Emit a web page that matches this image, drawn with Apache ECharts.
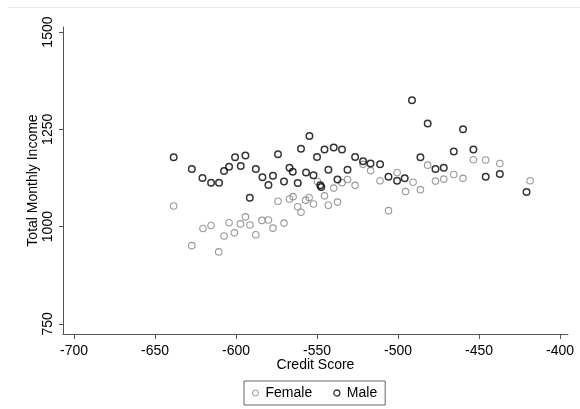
<!DOCTYPE html>
<html lang="en" style="height: 100%">
<head>
  <meta charset="utf-8">
</head>
<body style="height: 100%; margin: 0; background: #fff">
  <div id="container" style="width: 580px; height: 409px"></div>
  <script type="text/javascript" src="https://fastly.jsdelivr.net/npm/echarts@6.0.0/dist/echarts.min.js"></script>
  <script type="text/javascript">
    // credit score (x) and total monthly income (y)
    const maleX = [-638.5, -627.3, -620.7, -615.4, -610.5, -607.4, -604.3, -600.6, -597.1, -594.2,
      -591.5, -587.8, -583.7, -580.0, -577.2, -574.1, -570.4, -567.0, -565.0, -561.9,
      -559.9, -556.8, -554.7, -552.2, -550.0, -548.0, -547.4, -545.4, -543.0, -539.7,
      -537.4, -534.6, -531.2, -526.5, -521.6, -517.0, -511.1, -505.9, -500.6, -495.9,
      -491.4, -486.2, -481.7, -476.9, -471.8, -465.6, -459.9, -453.5, -445.9, -437.2,
      -420.7];
    const maleY = [1178, 1148, 1125, 1113, 1113, 1143, 1154, 1178, 1156, 1183,
      1074, 1148, 1127, 1107, 1131, 1186, 1116, 1151, 1141, 1112,
      1200, 1139, 1233, 1132, 1179, 1106, 1102, 1198, 1146, 1203,
      1121, 1198, 1146, 1179, 1168, 1162, 1160, 1128, 1118, 1124,
      1325, 1178, 1265, 1148, 1151, 1193, 1250, 1198, 1128, 1135,
      1089];
    const femaleX = [-638.5, -627.3, -620.4, -615.4, -610.7, -607.4, -604.3, -601.0, -597.3, -594.2,
      -591.4, -587.8, -584.0, -580.0, -577.2, -574.1, -570.4, -567.0, -564.8, -561.9,
      -559.9, -557.0, -554.9, -552.2, -549.8, -545.4, -543.0, -539.7, -537.4, -534.6,
      -531.2, -526.5, -521.6, -516.9, -511.1, -505.9, -500.6, -495.4, -490.7, -486.2,
      -481.7, -476.9, -471.8, -465.6, -459.9, -453.5, -445.9, -437.2, -418.5];
    const femaleY = [1053, 951, 995, 1003, 935, 976, 1010, 984, 1007, 1025,
      1004, 979, 1016, 1017, 996, 1065, 1009, 1071, 1077, 1051,
      1037, 1068, 1075, 1058, 1116, 1079, 1055, 1099, 1063, 1113,
      1121, 1106, 1160, 1144, 1118, 1041, 1139, 1090, 1114, 1095,
      1158, 1117, 1122, 1134, 1124, 1172, 1171, 1162, 1118];
    const xTicks = [-700, -650, -600, -550, -500, -450, -400];
    const yTicks = [750, 1000, 1250, 1500];

    function pairs(xs, ys) {
      return xs.map(function (x, i) { return [x, ys[i]]; });
    }

    var dom = document.getElementById('container');
    var myChart = echarts.init(dom, null, { renderer: 'canvas' });
    const font = 'Liberation Sans';
    const axisColor = '#555';

    var option = {
      animation: false,
      backgroundColor: '#fff',
      textStyle: { fontFamily: font },
      grid: { left: 63, right: 12, top: 27, bottom: 75, containLabel: false },
      graphic: [{
        type: 'line',
        shape: { x1: 8, y1: 7.5, x2: 580, y2: 7.5 },
        style: { stroke: '#e6edf0', lineWidth: 1 }
      }],
      legend: {
        left: 244,
        top: 381,
        orient: 'horizontal',
        borderColor: '#666',
        borderWidth: 1,
        borderRadius: 0,
        padding: [5, 8],
        itemWidth: 10,
        itemHeight: 6,
        itemGap: 21,
        textStyle: { fontFamily: font, fontSize: 14, color: '#000' },
        data: [
          { name: 'Female', icon: 'circle', itemStyle: { color: 'transparent', borderColor: '#808080', borderWidth: 1 } },
          { name: 'Male', icon: 'circle', itemStyle: { color: 'transparent', borderColor: '#000', borderWidth: 1.3 } }
        ]
      },
      xAxis: {
        type: 'value',
        min: -706.8,
        max: -395.1,
        name: 'Credit Score',
        nameLocation: 'middle',
        nameGap: 24,
        nameMoveOverlap: false,
        nameTextStyle: { fontFamily: font, fontSize: 14, color: '#000' },
        axisLine: { lineStyle: { color: axisColor, width: 1 } },
        axisTick: { show: true, length: 5, customValues: xTicks, lineStyle: { color: axisColor } },
        axisLabel: {
          customValues: xTicks, margin: 10, fontFamily: font, fontSize: 14, color: '#000',
          formatter: function (v) { return String(v); }
        },
        splitLine: { show: false }
      },
      yAxis: {
        type: 'value',
        min: 724,
        max: 1513,
        name: 'Total Monthly Income',
        nameLocation: 'middle',
        nameGap: 23,
        nameMoveOverlap: false,
        nameTextStyle: { fontFamily: font, fontSize: 14, color: '#000' },
        axisLine: { show: true, lineStyle: { color: axisColor, width: 1 } },
        axisTick: { show: true, length: 4, customValues: yTicks, lineStyle: { color: axisColor } },
        axisLabel: {
          customValues: yTicks, rotate: 90, margin: 8, fontFamily: font, fontSize: 14, color: '#000',
          formatter: function (v) { return String(v); }
        },
        splitLine: { show: false }
      },
      series: [
        {
          name: 'Female',
          type: 'scatter',
          symbol: 'circle',
          symbolSize: 6.5,
          itemStyle: { color: 'transparent', borderColor: '#808080', borderWidth: 1.1 },
          data: pairs(femaleX, femaleY)
        },
        {
          name: 'Male',
          type: 'scatter',
          symbol: 'circle',
          symbolSize: 6.5,
          itemStyle: { color: 'transparent', borderColor: '#000', borderWidth: 1.5 },
          data: pairs(maleX, maleY)
        }
      ]
    };

    myChart.setOption(option);
    window.addEventListener('resize', myChart.resize);
  </script>
</body>
</html>
